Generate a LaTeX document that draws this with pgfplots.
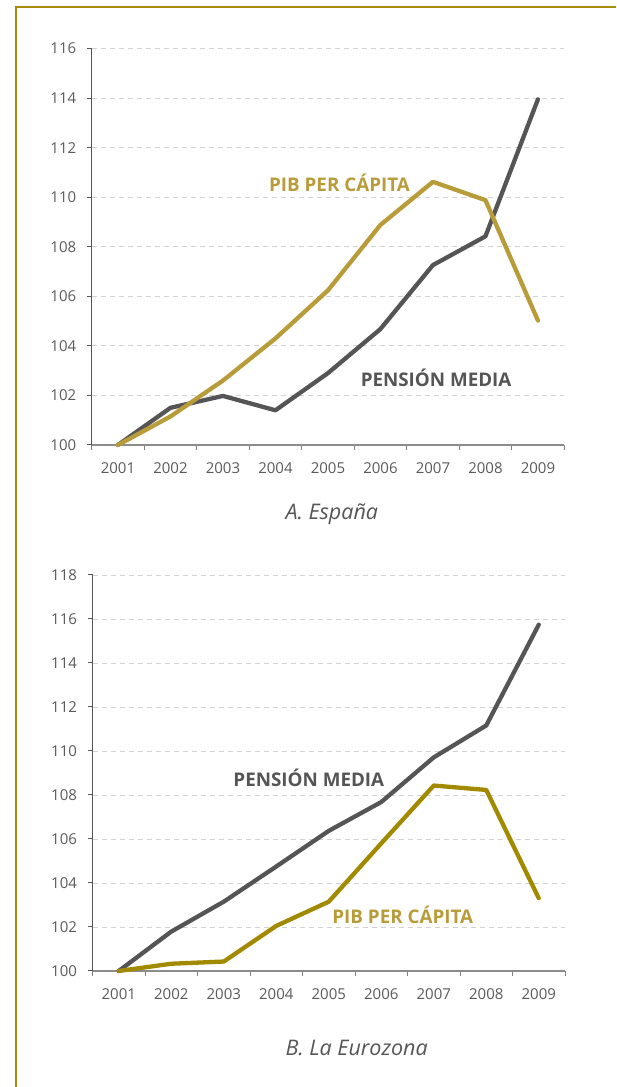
\documentclass[border=0pt]{standalone}
\usepackage{fontspec}
\setmainfont{Open Sans}
\usepackage{pgfplots}
\pgfplotsset{compat=1.18}
\definecolor{gris}{HTML}{555555}
\definecolor{oroA}{HTML}{B89C3A}
\definecolor{oroB}{HTML}{A28A00}
\definecolor{marco}{HTML}{A68C0A}
\definecolor{ticktxt}{HTML}{5A5A5A}
\definecolor{gridc}{HTML}{D2D2D2}

\pgfplotsset{
  panel/.style={
    scale only axis, width=472.5pt,
    xmin=0.5, xmax=9.5, ymin=100,
    axis x line=bottom, axis y line=left,
    axis line style={-},
    x axis line style={color=black!45, line width=1.4pt},
    y axis line style={color=gris, line width=1pt},
    xtick={0.5,1.5,2.5,3.5,4.5,5.5,6.5,7.5,8.5,9.5},
    x tick label as interval,
    xticklabels={2001,2002,2003,2004,2005,2006,2007,2008,2009},
    tick align=outside,
    major tick length=5pt,
    x tick style={color=black!50, line width=1pt},
    y tick style={color=gris, line width=1pt},
    ymajorgrids=true,
    grid style={gridc, line width=0.9pt, dash pattern=on 5pt off 4pt},
    tick label style={font=\fontsize{15}{15}\selectfont, text=ticktxt},
    xticklabel style={yshift=-9pt},
    yticklabel style={xshift=-7pt},
    /pgf/number format/assume math mode=true,
    clip=false,
    every axis plot/.append style={line width=4.3pt, line join=round, line cap=round},
  }
}

\begin{document}
\begin{tikzpicture}
\useasboundingbox (0pt,0pt) rectangle (616pt,1087pt);
\draw[marco, line width=2pt] (15.7pt,0pt) -- (15.7pt,1080.3pt) -- (616pt,1080.3pt);

% ---------- A. España ----------
\begin{axis}[panel, at={(91.7pt,642pt)}, anchor=south west,
  height=396.5pt, ymax=116, ytick={100,102,...,116}]
\addplot[gris] coordinates {(1,100) (2,101.5) (3,101.98) (4,101.4) (5,102.9) (6,104.68) (7,107.26) (8,108.42) (9,113.95)};
\addplot[oroA] coordinates {(1,100) (2,101.15) (3,102.6) (4,104.3) (5,106.24) (6,108.88) (7,110.62) (8,109.88) (9,105.02)};
\node[font=\bfseries\fontsize{18.8}{18.8}\selectfont, text=oroA] at (axis cs:5.22,110.58) {PIB PER CÁPITA};
\node[font=\bfseries\fontsize{18.8}{18.8}\selectfont, text=gris] at (axis cs:7.06,102.69) {PENSIÓN MEDIA};
\end{axis}
\node[anchor=west, font=\itshape\fontsize{21.5}{21.5}\selectfont, text=gris] at (282pt,573pt) {A. España};

% ---------- B. La Eurozona ----------
\begin{axis}[panel, at={(92.5pt,116pt)}, anchor=south west,
  height=396pt, ymax=118, ytick={100,102,...,118}]
\addplot[gris] coordinates {(1,100) (2,101.79) (3,103.15) (4,104.75) (5,106.37) (6,107.68) (7,109.71) (8,111.16) (9,115.74)};
\addplot[oroB] coordinates {(1,100) (2,100.33) (3,100.43) (4,102.05) (5,103.15) (6,105.8) (7,108.43) (8,108.23) (9,103.31)};
\node[font=\bfseries\fontsize{18.8}{18.8}\selectfont, text=gris] at (axis cs:4.62,108.77) {PENSIÓN MEDIA};
\node[font=\bfseries\fontsize{18.8}{18.8}\selectfont, text=oroA] at (axis cs:6.41,102.55) {PIB PER CÁPITA};
\end{axis}
\node[anchor=west, font=\itshape\fontsize{21.5}{21.5}\selectfont, text=gris] at (282pt,39pt) {B. La Eurozona};
\end{tikzpicture}
\end{document}
